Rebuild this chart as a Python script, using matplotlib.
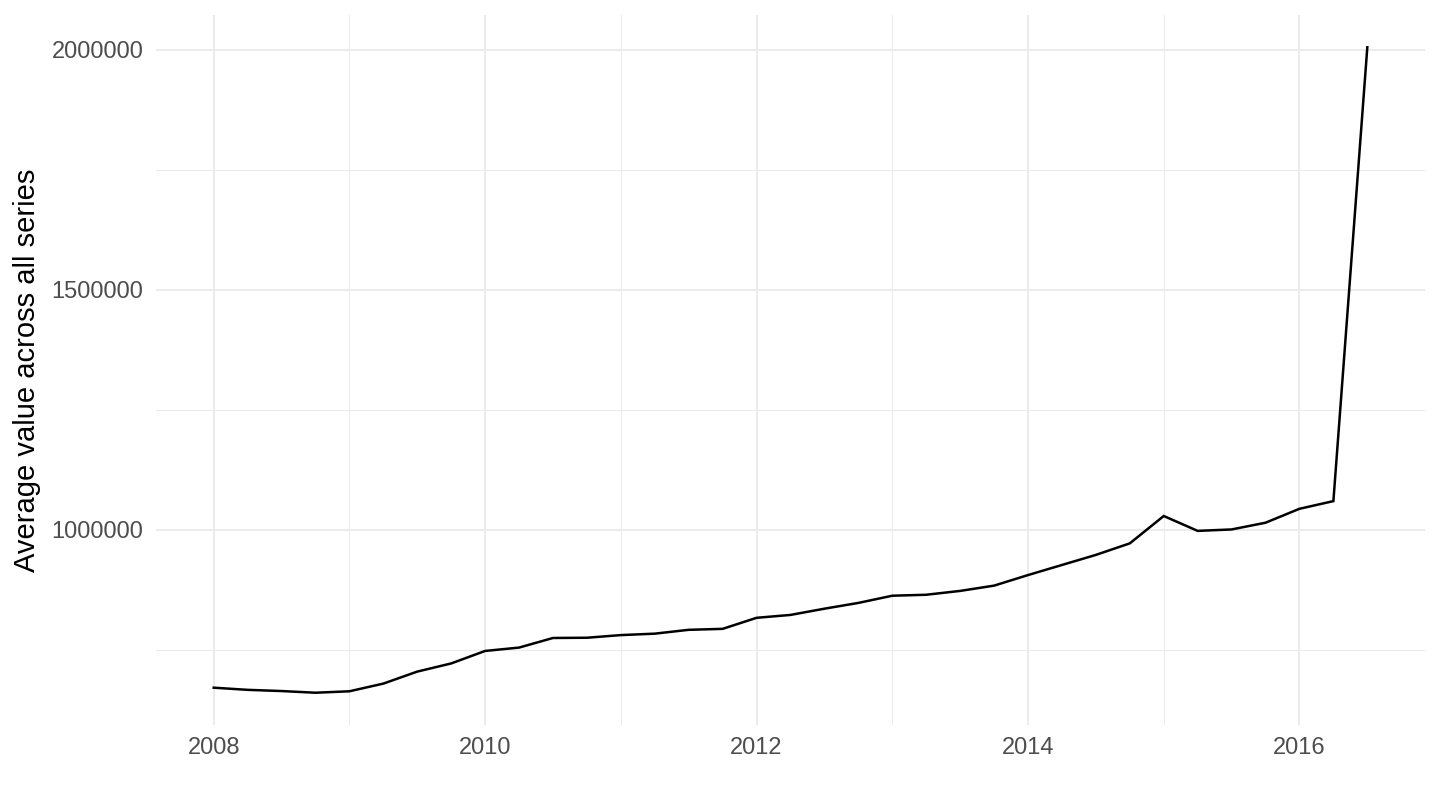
import matplotlib
matplotlib.use("Agg")
import matplotlib.pyplot as plt
from matplotlib.ticker import FixedLocator

# Quarterly data
time = [2008.0, 2008.25, 2008.5, 2008.75,
        2009.0, 2009.25, 2009.5, 2009.75,
        2010.0, 2010.25, 2010.5, 2010.75,
        2011.0, 2011.25, 2011.5, 2011.75,
        2012.0, 2012.25, 2012.5, 2012.75,
        2013.0, 2013.25, 2013.5, 2013.75,
        2014.0, 2014.25, 2014.5, 2014.75,
        2015.0, 2015.25, 2015.5, 2015.75,
        2016.0, 2016.25, 2016.5]
avg_value = [671500, 667000, 664500, 661000,
             664000, 680000, 705000, 722000,
             748000, 755000, 775000, 775500,
             781000, 784000, 792000, 794000,
             817000, 823000, 836000, 848000,
             863000, 865000, 873000, 884000,
             906000, 927000, 948000, 972000,
             1029000, 998000, 1001000, 1015000,
             1044000, 1060000, 2005000]

x_ticks = [2008, 2010, 2012, 2014, 2016]
y_ticks = [1000000, 1500000, 2000000]
y_label = "Average value across all series"

plt.rcParams['font.family'] = ['Liberation Sans', 'DejaVu Sans']

fig = plt.figure(figsize=(14.4, 8.1), dpi=100)
ax = fig.add_axes([156/1440, (810-725)/810, (1425-156)/1440, (725-15)/810])

ax.plot(time, avg_value, color='black', linewidth=1.8, solid_joinstyle='miter', zorder=3)

xmin, xmax = min(time), max(time)
ymin, ymax = min(avg_value), max(avg_value)
xr = xmax - xmin
yr = ymax - ymin
ax.set_xlim(xmin - 0.05*xr, xmax + 0.05*xr)
ax.set_ylim(ymin - 0.05*yr, ymax + 0.05*yr)

ax.xaxis.set_major_locator(FixedLocator(x_ticks))
ax.xaxis.set_minor_locator(FixedLocator([2009, 2011, 2013, 2015]))
ax.yaxis.set_major_locator(FixedLocator(y_ticks))
ax.yaxis.set_minor_locator(FixedLocator([750000, 1250000, 1750000]))
ax.set_xticklabels([str(t) for t in x_ticks])
ax.set_yticklabels([str(t) for t in y_ticks])

ax.grid(which='major', color='#EBEBEB', linewidth=1.5, zorder=0)
ax.grid(which='minor', color='#EBEBEB', linewidth=0.75, zorder=0)
ax.set_axisbelow(True)
for s in ax.spines.values():
    s.set_visible(False)
ax.tick_params(which='both', length=0)
ax.tick_params(axis='both', labelsize=17, labelcolor='#4D4D4D')
ax.tick_params(axis='x', pad=9)
ax.tick_params(axis='y', pad=9)

ax.set_ylabel(y_label, fontsize=21, color='black')
ax.yaxis.set_label_coords(-(156-41)/1269, 0.5)

fig.savefig("out.png", dpi=100, facecolor='white')
